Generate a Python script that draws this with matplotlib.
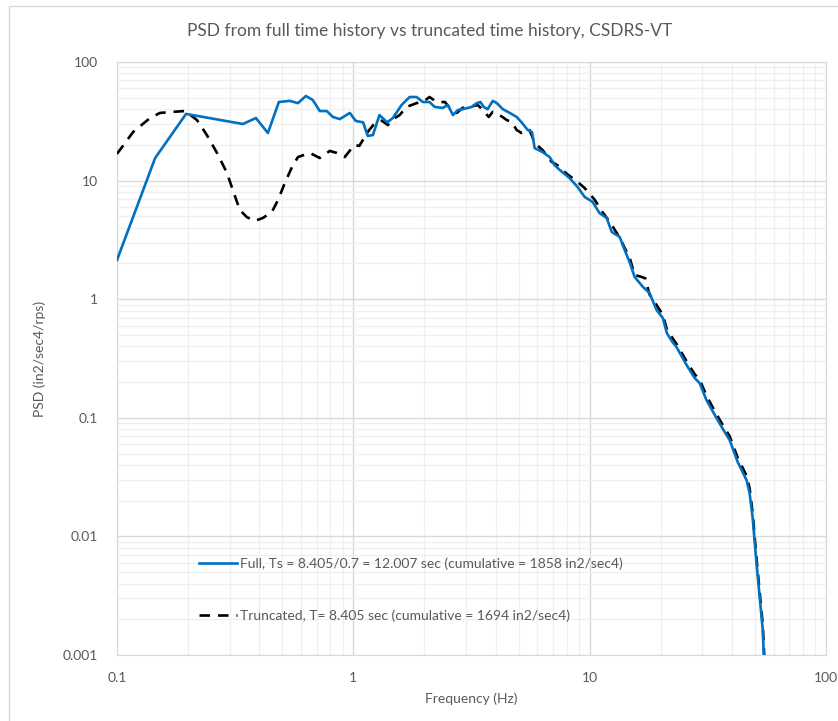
import matplotlib.pyplot as plt
from matplotlib.patches import Rectangle
from matplotlib.ticker import LogLocator, FixedLocator, FixedFormatter, NullFormatter

plt.rcParams['font.family'] = ['Lato', 'DejaVu Sans']

# full time history PSD
full_f = [0.1, 0.145, 0.196, 0.341, 0.387, 0.435, 0.484, 0.539, 0.583, 0.63, 0.674,
          0.721, 0.772, 0.819, 0.877, 0.966, 1.025, 1.1, 1.15, 1.21, 1.29, 1.39,
          1.47, 1.6, 1.73, 1.85, 1.97, 2.1, 2.21, 2.39, 2.51, 2.64, 2.77, 2.9,
          3.17, 3.33, 3.45, 3.56, 3.7, 3.89, 4.05, 4.29, 4.59, 4.91, 5.15, 5.47,
          5.7, 5.85, 6.32, 6.77, 7.11, 7.47, 8.22, 8.89, 9.52, 10.0, 10.3, 11.0,
          11.8, 12.4, 13.4, 13.8, 14.8, 15.5, 16.8, 17.9, 19.2, 20.4, 21.2, 22.4,
          23.3, 25.7, 27.8, 29.2, 31.2, 33.8, 36.2, 39.1, 42.3, 46.1, 47.5, 48.9,
          50.8, 52.4, 54.0, 54.6]
full_psd = [2.14, 15.5, 36.5, 30.0, 33.7, 25.2, 46.0, 47.0, 45.0, 51.7, 47.8,
            38.6, 38.6, 34.4, 33.0, 37.2, 31.8, 31.0, 23.8, 24.2, 35.7, 31.0,
            33.7, 43.4, 50.7, 50.7, 46.0, 46.0, 41.8, 41.0, 43.4, 35.7, 39.4, 40.0,
            41.8, 45.0, 46.0, 41.8, 40.0, 47.0, 45.0, 40.0, 37.2, 34.4, 31.0, 26.7,
            25.7, 18.8, 17.4, 15.8, 13.5, 12.3, 10.5, 8.84, 7.28, 6.86, 6.6, 5.33,
            4.84, 3.69, 3.35, 2.86, 2.02, 1.54, 1.27, 1.13, 0.81, 0.694, 0.519, 0.436,
            0.395, 0.279, 0.217, 0.196, 0.141, 0.106, 0.0836, 0.065, 0.0424, 0.0299,
            0.0232, 0.0146, 0.00597, 0.00308, 0.00163, 0.00095]

# truncated time history PSD
trunc_f = [0.1, 0.117, 0.138, 0.152, 0.173, 0.194, 0.218, 0.24, 0.265, 0.292, 0.309,
           0.331, 0.354, 0.383, 0.414, 0.452, 0.48, 0.513, 0.55, 0.583, 0.655, 0.721,
           0.795, 0.851, 0.92, 1.01, 1.06, 1.15, 1.24, 1.32, 1.4, 1.5, 1.57, 1.68,
           1.85, 1.97, 2.1, 2.25, 2.44, 2.56, 2.74, 2.9, 3.1, 3.36, 3.53, 3.74, 3.89,
           4.16, 4.46, 4.69, 4.91, 5.15, 5.57, 5.85, 6.32, 6.9, 7.3, 8.0, 8.8, 9.5,
           10.5, 11.35, 12.2, 13.4, 14.8, 15.5, 16.6, 17.2, 17.9, 19.2, 20.4, 21.2,
           22.4, 23.3, 25.7, 27.8, 29.2, 31.2, 33.8, 36.2, 39.1, 42.3, 46.1, 47.5,
           48.9, 50.8, 52.4, 54.0, 54.8]
trunc_psd = [16.8, 25.7, 33.7, 37.2, 38.0, 38.6, 32.4, 24.2, 17.1, 11.6, 8.33,
             5.65, 4.93, 4.57, 4.84, 5.43, 6.86, 9.55, 13.0, 15.8, 17.1, 15.5,
             17.8, 17.1, 15.8, 20.0, 19.6, 25.7, 31.0, 32.0, 29.4, 33.7, 35.7, 41.8,
             45.0, 46.0, 50.7, 46.0, 46.0, 41.0, 37.2, 41.0, 41.8, 43.4, 39.4, 34.4, 38.0,
             35.7, 32.4, 31.0, 26.7, 25.2, 26.7, 20.8, 18.1, 14.4, 13.5, 11.4, 9.9, 8.7,
             6.9, 5.4, 4.45, 3.3, 2.2, 1.6, 1.54, 1.5, 1.1, 0.89, 0.74, 0.56,
             0.47, 0.42, 0.3, 0.233, 0.21, 0.154, 0.114, 0.09, 0.07, 0.046, 0.0325,
             0.0255, 0.016, 0.0066, 0.0034, 0.0018, 0.00098]

x_ticks = [0.1, 1, 10, 100]
x_labels = ['0.1', '1', '10', '100']
y_ticks = [0.001, 0.01, 0.1, 1, 10, 100]
y_labels = ['0.001', '0.01', '0.1', '1', '10', '100']

grey = '#595959'

fig = plt.figure(figsize=(8.38, 7.21), dpi=100)
# chart area border (only left and top edges fall inside the image)
fig.patches.append(Rectangle((9 / 838, -0.1), 1.2, (721 - 6) / 721 + 0.1,
                             transform=fig.transFigure, fill=False,
                             edgecolor='#d9d9d9', linewidth=1.0))
ax = fig.add_axes([117 / 838, 1 - 655 / 721, (826 - 117) / 838, (655 - 62) / 721])

ax.set_xscale('log')
ax.set_yscale('log')
ax.set_xlim(0.1, 100)
ax.set_ylim(0.001, 100)

ax.plot(full_f, full_psd, color='#0070c0', linewidth=1.9,
        label='Full, Ts = 8.405/0.7 = 12.007 sec (cumulative = 1858 in2/sec4)', zorder=4)
ax.plot(trunc_f, trunc_psd, color='black', linewidth=1.9, linestyle=(0, (4, 3)),
        label='Truncated, T= 8.405 sec (cumulative = 1694 in2/sec4)', zorder=3)

ax.xaxis.set_major_locator(FixedLocator(x_ticks))
ax.xaxis.set_major_formatter(FixedFormatter(x_labels))
ax.yaxis.set_major_locator(FixedLocator(y_ticks))
ax.yaxis.set_major_formatter(FixedFormatter(y_labels))
ax.xaxis.set_minor_locator(LogLocator(base=10, subs=range(2, 10), numticks=20))
ax.yaxis.set_minor_locator(LogLocator(base=10, subs=range(2, 10), numticks=20))
ax.xaxis.set_minor_formatter(NullFormatter())
ax.yaxis.set_minor_formatter(NullFormatter())

ax.grid(which='major', color='#d9d9d9', linewidth=1.0)
ax.grid(which='minor', color='#f0f0f0', linewidth=1.0)
ax.set_axisbelow(True)
ax.tick_params(which='both', length=0, colors=grey, labelsize=10)
ax.tick_params(axis='x', pad=12)
ax.tick_params(axis='y', pad=14)
for s in ax.spines.values():
    s.set_color('#d9d9d9')

ax.set_xlabel('Frequency (Hz)', color=grey, fontsize=10, labelpad=6)
ax.set_ylabel('PSD (in2/sec4/rps)', color=grey, fontsize=10, labelpad=12)
fig.text(430 / 838, 1 - 31 / 721, 'PSD from full time history vs truncated time history, CSDRS-VT',
         ha='center', va='center', color=grey, fontsize=12.5)

leg = ax.legend(loc='upper left', bbox_to_anchor=((186 - 117) / 709, (655 - 545) / 593),
                frameon=False, fontsize=10, labelspacing=2.85, handlelength=2.8,
                handletextpad=0.2, labelcolor=grey)

fig.savefig('out.png', dpi=100)
